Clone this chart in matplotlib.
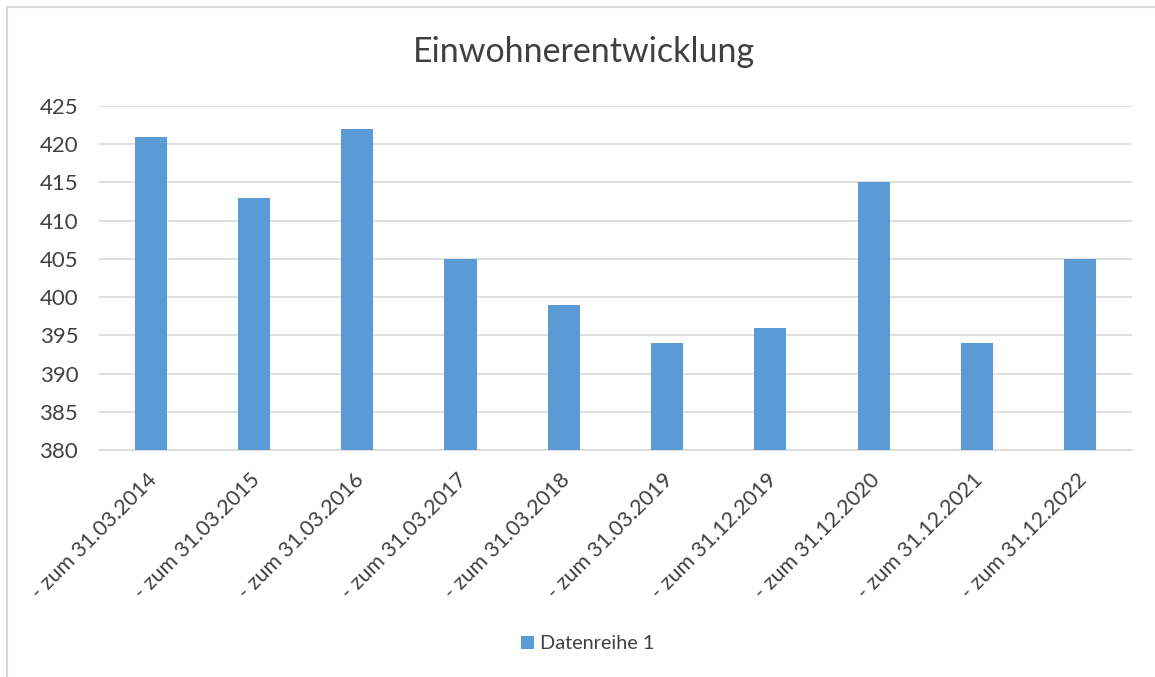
import matplotlib.pyplot as plt
from matplotlib.patches import Rectangle
from matplotlib.transforms import ScaledTranslation

# data
kategorien = ['- zum 31.03.2014', '- zum 31.03.2015', '- zum 31.03.2016', '- zum 31.03.2017',
              '- zum 31.03.2018', '- zum 31.03.2019', '- zum 31.12.2019', '- zum 31.12.2020',
              '- zum 31.12.2021', '- zum 31.12.2022']
einwohner = [421, 413, 422, 405, 399, 394, 396, 415, 394, 405]
y_ticks = [380, 385, 390, 395, 400, 405, 410, 415, 420, 425]

plt.rcParams['font.family'] = ['Lato', 'DejaVu Sans']
textfarbe = '#404040'

fig = plt.figure(figsize=(11.55, 6.77), dpi=100)
ax = fig.add_axes([0.0857, 0.3353, 0.8943, 0.5081])

x = range(len(kategorien))
ax.bar(x, einwohner, width=0.31, color='#5b9bd5', label='Datenreihe 1', zorder=3)

ax.set_ylim(380, 425)
ax.set_xlim(-0.5, len(kategorien) - 0.5)
ax.set_yticks(y_ticks)
ax.set_yticklabels([str(t) for t in y_ticks], fontsize=16, color=textfarbe)
ax.set_xticks(list(x))
ax.set_xticklabels(kategorien, rotation=45, ha='right', rotation_mode='anchor',
                   fontsize=15.5, color=textfarbe)
ax.tick_params(axis='y', length=0, pad=15)
ax.tick_params(axis='x', length=0, pad=14)
# shift rotated labels a bit to the left, like Excel
for lab in ax.get_xticklabels():
    lab.set_transform(lab.get_transform() + ScaledTranslation(-0.04, 0, fig.dpi_scale_trans))
ax.grid(axis='y', color='#d9d9d9', linewidth=1.2, zorder=0)
for s in ['top', 'right', 'left']:
    ax.spines[s].set_visible(False)
ax.spines['bottom'].set_color('#d9d9d9')
ax.spines['bottom'].set_linewidth(1.2)

fig.text(0.506, 0.923, 'Einwohnerentwicklung', ha='center', va='center',
         fontsize=24.5, color=textfarbe)

leg = fig.legend(loc='center', bbox_to_anchor=(0.509, 0.049), frameon=False,
                 fontsize=14.3, handlelength=0.65, handleheight=0.65, handletextpad=0.3)
for t in leg.get_texts():
    t.set_color(textfarbe)

# chart border (cut off right/bottom like the screenshot)
fig.patches.append(Rectangle((7 / 1155, -0.1), 1.2, 1.1 - 7 / 677, transform=fig.transFigure,
                             fill=False, edgecolor='#d9d9d9', linewidth=1.5))

fig.savefig('out.png', dpi=100)
